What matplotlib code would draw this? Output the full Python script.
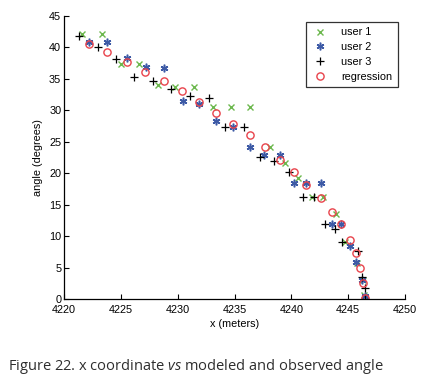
import matplotlib
matplotlib.use("Agg")
import matplotlib.pyplot as plt

# user 1 (green x)
u1_x = [4221.6, 4223.3, 4225.0, 4226.6, 4228.3, 4229.8, 4231.4, 4233.1, 4234.7, 4236.4,
        4238.1, 4239.4, 4240.6, 4241.8, 4242.8, 4243.9, 4244.7, 4245.8, 4246.3, 4246.4]
u1_y = [42.2, 42.2, 37.3, 37.3, 34.1, 33.7, 33.7, 30.6, 30.6, 30.6,
        24.2, 21.6, 19.3, 16.2, 16.2, 13.5, 9.0, 5.7, 3.0, 0.7]
# user 2 (blue *)
u2_x = [4222.2, 4223.8, 4225.5, 4227.2, 4228.8, 4230.5, 4231.9, 4233.4, 4234.9, 4236.4,
        4237.6, 4239.0, 4240.2, 4241.3, 4242.6, 4243.6, 4244.4, 4245.2, 4245.7, 4246.2, 4246.5]
u2_y = [40.9, 40.9, 38.3, 36.9, 36.8, 31.5, 31.0, 28.3, 27.4, 24.2,
        22.9, 22.9, 18.4, 18.4, 18.4, 12.0, 12.0, 8.5, 5.9, 3.1, 0.4]
# user 3 (black +)
u3_x = [4221.3, 4223.0, 4224.6, 4226.2, 4227.8, 4229.4, 4231.1, 4232.8, 4234.2, 4235.8,
        4237.2, 4238.5, 4239.8, 4241.0, 4242.0, 4243.0, 4243.8, 4244.5, 4245.9, 4246.2,
        4246.5, 4246.5]
u3_y = [41.8, 40.0, 38.2, 35.3, 34.6, 33.4, 32.3, 31.9, 27.4, 27.4,
        22.6, 22.0, 20.2, 16.2, 16.2, 12.0, 11.1, 9.0, 7.6, 3.5,
        1.7, 0.0]
# regression (red o)
rg_x = [4222.2, 4223.8, 4225.5, 4227.1, 4228.8, 4230.4, 4231.9, 4233.4, 4234.9, 4236.4,
        4237.7, 4239.0, 4240.2, 4241.3, 4242.6, 4243.6, 4244.4, 4245.2, 4245.7, 4246.0,
        4246.3, 4246.5]
rg_y = [40.5, 39.2, 37.7, 36.1, 34.6, 33.0, 31.4, 29.5, 27.8, 26.1,
        24.2, 22.1, 20.2, 18.2, 16.0, 13.9, 11.9, 9.4, 7.3, 4.9,
        2.6, 0.2]

x_ticks = [4220, 4225, 4230, 4235, 4240, 4245, 4250]
y_ticks = [0, 5, 10, 15, 20, 25, 30, 35, 40, 45]

plt.rcParams['font.family'] = ['Liberation Sans', 'DejaVu Sans']
plt.rcParams['mathtext.fontset'] = 'custom'
plt.rcParams['mathtext.it'] = 'Open Sans:italic'
plt.rcParams['mathtext.rm'] = 'Open Sans'

fig = plt.figure(figsize=(4.28, 3.85), dpi=100)
ax = fig.add_axes([64/428, 1 - 299/385, 341/428, 283/385])

ax.plot(u1_x, u1_y, linestyle='none', marker='x', color='#6cb84e', markersize=4.0,
        markeredgewidth=1.0, label='user 1')
ax.plot(u2_x, u2_y, linestyle='none', marker=(6, 2, 0), color='#3d5aa6', markersize=5.5,
        markeredgewidth=1.1, label='user 2')
ax.plot(u3_x, u3_y, linestyle='none', marker='+', color='black', markersize=6,
        markeredgewidth=0.9, label='user 3')
ax.plot(rg_x, rg_y, linestyle='none', marker='o', markerfacecolor='none',
        markeredgecolor='#e8434b', markersize=5.2, markeredgewidth=1.0, label='regression')

ax.set_xlim(4220, 4250)
ax.set_ylim(0, 45)
ax.set_xticks(x_ticks)
ax.set_yticks(y_ticks)
ax.tick_params(direction='in', length=3.5, width=0.8, labelsize=7.8)
ax.tick_params(axis='x', pad=4.5)
ax.tick_params(axis='y', pad=2)
ax.spines['top'].set_visible(False)
ax.spines['right'].set_visible(False)
for s in ('left', 'bottom'):
    ax.spines[s].set_linewidth(0.9)

ax.set_xlabel('x (meters)', fontsize=7.8, labelpad=3)
ax.set_ylabel('angle (degrees)', fontsize=7.8, labelpad=4)

leg = ax.legend(loc='upper right', bbox_to_anchor=(398/428, 1 - 22/385),
                bbox_transform=fig.transFigure, fontsize=7.8, frameon=True,
                fancybox=False, borderpad=0.5, handlelength=1.6, handletextpad=1.2,
                labelspacing=0.45, borderaxespad=0)
leg.get_frame().set_edgecolor('black')
leg.get_frame().set_linewidth(0.9)

fig.text(8/428, 1 - 366/385, 'Figure 22. x coordinate $\\it{vs}$ modeled and observed angle',
         fontsize=10.5, family=['Open Sans', 'DejaVu Sans'], color='#2e2e2e', va='center', ha='left')

fig.savefig('out.png', dpi=100)
